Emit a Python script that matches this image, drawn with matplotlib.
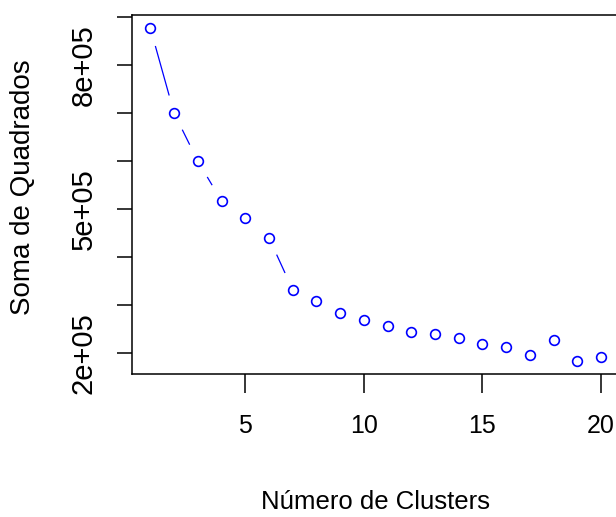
import numpy as np
import matplotlib.pyplot as plt

# elbow curve
clusters = list(range(1, 21))
soma = [8.77e5, 7.00e5, 6.00e5, 5.17e5, 4.81e5, 4.40e5, 3.32e5, 3.08e5,
        2.84e5, 2.68e5, 2.56e5, 2.44e5, 2.40e5, 2.32e5, 2.19e5, 2.13e5,
        1.96e5, 2.28e5, 1.84e5, 1.92e5]
yticks = [2e5, 3e5, 4e5, 5e5, 6e5, 7e5, 8e5, 9e5]
ytick_labels = ['2e+05', '', '', '5e+05', '', '', '8e+05', '']
xticks = [5, 10, 15, 20]

plt.rcParams['font.family'] = ['Liberation Sans', 'DejaVu Sans']

fig = plt.figure(figsize=(6.16, 5.17), dpi=100)
ax = fig.add_axes([0.2149, 0.2766, 0.79, 0.6944])

# R style 4% padding
x = np.array(clusters, dtype=float)
y = np.array(soma)
xr = x.max() - x.min()
yr = y.max() - y.min()
ax.set_xlim(x.min() - 0.04 * xr, x.max() + 0.04 * xr)
ax.set_ylim(y.min() - 0.04 * yr, y.max() + 0.04 * yr)

# type="b": segments with a gap around every point
gap = 19
pts = ax.transData.transform(np.column_stack([x, y]))
inv = ax.transData.inverted()
for p1, p2 in zip(pts[:-1], pts[1:]):
    d = p2 - p1
    L = np.hypot(*d)
    if L > 2 * gap:
        a = inv.transform(p1 + d / L * gap)
        b = inv.transform(p2 - d / L * gap)
        ax.plot([a[0], b[0]], [a[1], b[1]], color='#0000ff', lw=0.9)

ax.plot(x, y, 'o', ms=7, mfc='none', mec='#0000ff', mew=1.2)

ax.set_xticks(xticks)
ax.set_xticklabels([str(t) for t in xticks], fontsize=18)
ax.set_yticks(yticks)
ax.set_yticklabels(ytick_labels, fontsize=21, rotation=90, va='center')
ax.tick_params(axis='x', length=13.5, width=1.1, pad=15)
ax.tick_params(axis='y', length=11, width=1.1, pad=14)

for s in ax.spines.values():
    s.set_linewidth(1.1)

ax.set_xlabel('Número de Clusters', fontsize=18.5)
ax.xaxis.set_label_coords(0.5, -0.3565)
ax.xaxis.label.set_va('center')
ax.set_ylabel('Soma de Quadrados', fontsize=20)
ax.yaxis.set_label_coords(-0.2238, 0.519)
ax.yaxis.label.set_va('center')

fig.savefig('out.png', dpi=100)
